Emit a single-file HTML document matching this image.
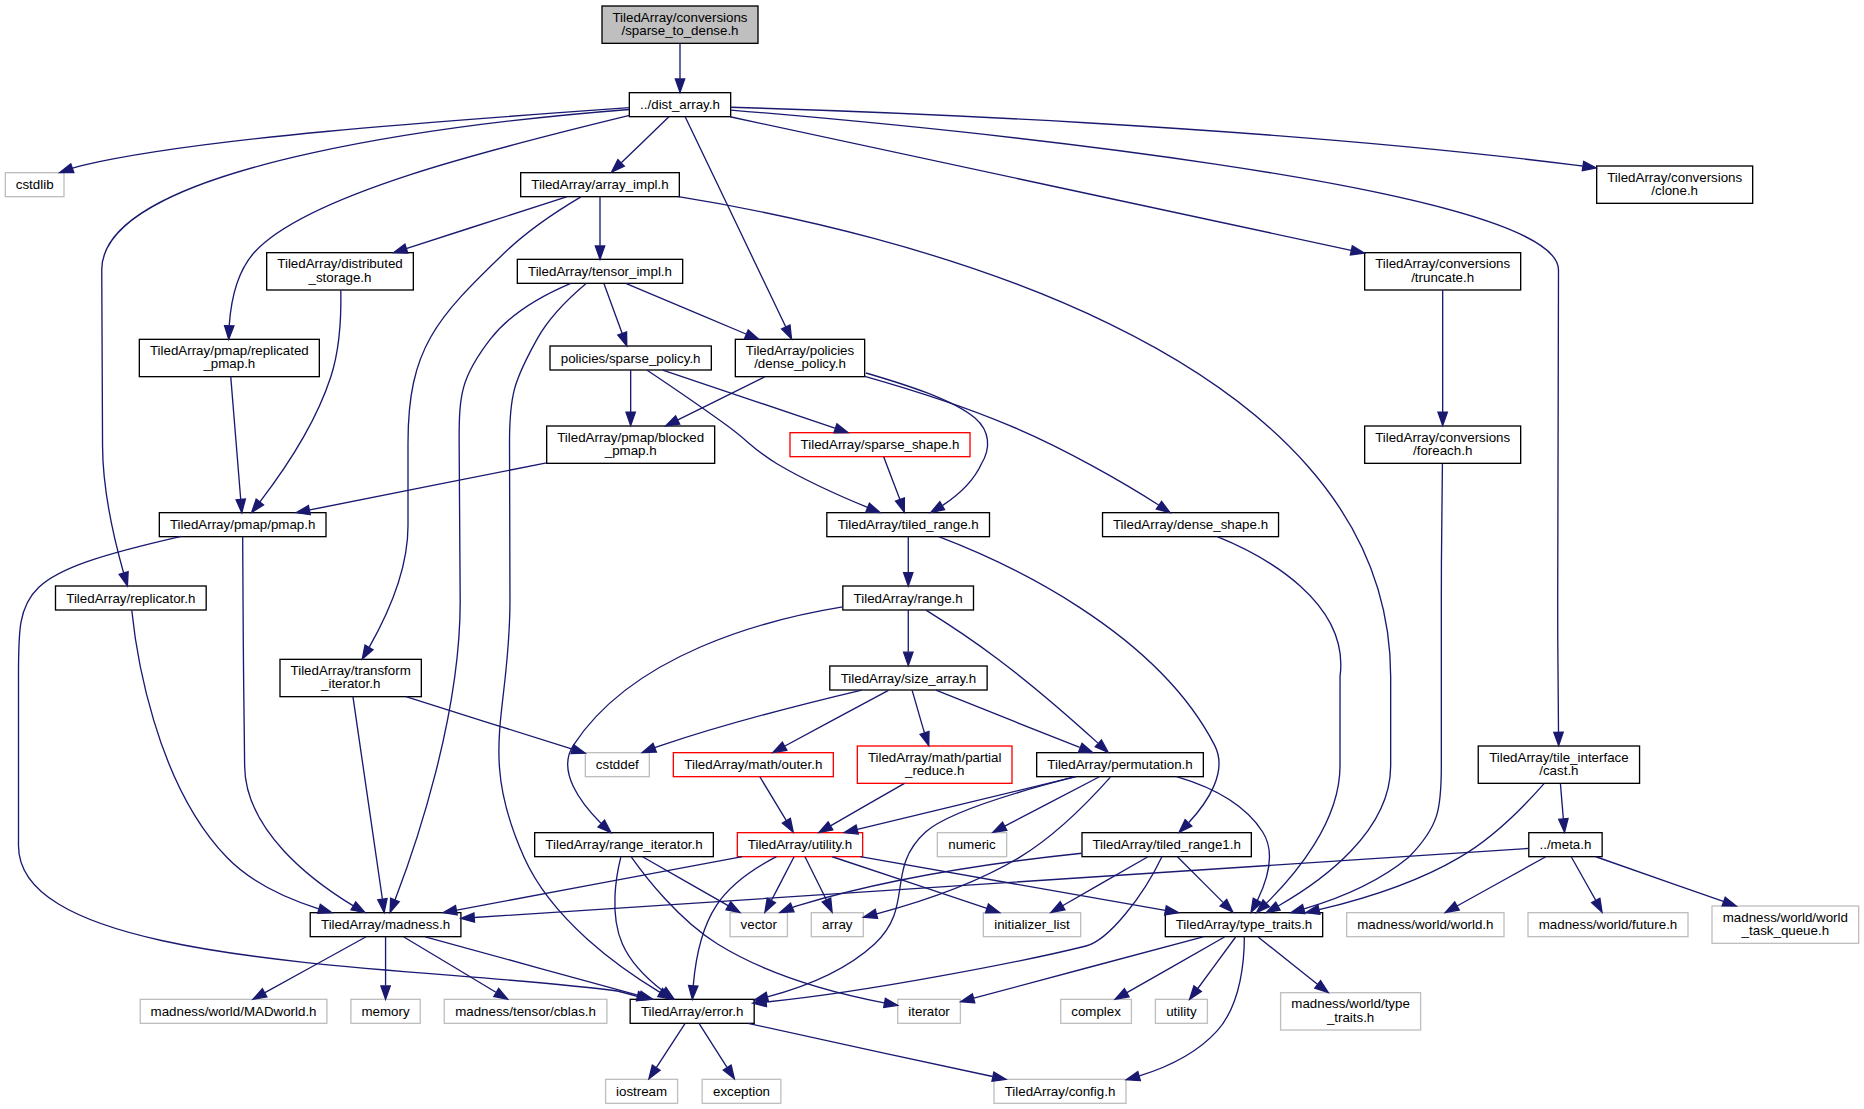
<!DOCTYPE html>
<html><head><meta charset="utf-8"><title>Include dependency graph for sparse_to_dense.h</title>
<style>
html,body{margin:0;padding:0;background:#fff;}
body{width:1864px;height:1109px;overflow:hidden;}
svg{display:block;}
.E path{fill:none;stroke:#191970;stroke-width:1.333;}
.H polygon{fill:#191970;stroke:#191970;stroke-width:1.333;}
rect{stroke-width:1.333;fill:#fff;}
.n{stroke:#000;}
.nr{stroke:#000;fill:#bfbfbf;}
.ng{stroke:#bfbfbf;}
.nred{stroke:#f00;}
text{font-family:"Liberation Sans",sans-serif;font-size:13.333px;text-anchor:middle;fill:#000;}
</style></head><body>
<svg width="1864" height="1109" viewBox="0 0 1864 1109">
<g>
<rect x="602.00" y="6.00" width="156.00" height="37.33" class="nr"/>
<rect x="629.33" y="92.67" width="101.33" height="24.00" class="n"/>
<rect x="5.33" y="172.67" width="58.67" height="24.00" class="ng"/>
<rect x="55.50" y="586.00" width="150.67" height="24.00" class="n"/>
<rect x="310.23" y="912.67" width="150.67" height="24.00" class="n"/>
<rect x="444.23" y="999.33" width="162.67" height="24.00" class="ng"/>
<rect x="140.23" y="999.33" width="186.67" height="24.00" class="ng"/>
<rect x="630.17" y="999.33" width="124.00" height="24.00" class="n"/>
<rect x="994.00" y="1079.33" width="132.00" height="24.00" class="ng"/>
<rect x="702.17" y="1079.33" width="78.67" height="24.00" class="ng"/>
<rect x="605.60" y="1079.33" width="72.00" height="24.00" class="ng"/>
<rect x="350.90" y="999.33" width="69.33" height="24.00" class="ng"/>
<rect x="520.67" y="172.67" width="158.67" height="24.00" class="n"/>
<rect x="517.33" y="259.33" width="165.33" height="24.00" class="n"/>
<rect x="550.00" y="346.00" width="161.33" height="24.00" class="n"/>
<rect x="546.67" y="426.00" width="168.00" height="37.33" class="n"/>
<rect x="159.33" y="512.67" width="166.67" height="24.00" class="n"/>
<rect x="826.83" y="512.67" width="162.67" height="24.00" class="n"/>
<rect x="842.83" y="586.00" width="130.67" height="24.00" class="n"/>
<rect x="829.80" y="666.00" width="157.33" height="24.00" class="n"/>
<rect x="1036.67" y="752.67" width="166.67" height="24.00" class="n"/>
<rect x="937.33" y="832.67" width="69.33" height="24.00" class="ng"/>
<rect x="811.30" y="912.67" width="52.00" height="24.00" class="ng"/>
<rect x="737.33" y="832.67" width="125.33" height="24.00" class="nred"/>
<rect x="730.07" y="912.67" width="57.33" height="24.00" class="ng"/>
<rect x="1165.33" y="912.67" width="157.33" height="24.00" class="n"/>
<rect x="1280.60" y="992.67" width="140.00" height="37.33" class="ng"/>
<rect x="1060.73" y="999.33" width="70.67" height="24.00" class="ng"/>
<rect x="897.73" y="999.33" width="62.67" height="24.00" class="ng"/>
<rect x="1155.40" y="999.33" width="52.00" height="24.00" class="ng"/>
<rect x="983.33" y="912.67" width="97.33" height="24.00" class="ng"/>
<rect x="585.33" y="752.67" width="64.00" height="24.00" class="ng"/>
<rect x="857.33" y="746.00" width="154.67" height="37.33" class="nred"/>
<rect x="673.33" y="752.67" width="160.00" height="24.00" class="nred"/>
<rect x="534.67" y="832.67" width="178.67" height="24.00" class="n"/>
<rect x="1082.00" y="832.67" width="169.33" height="24.00" class="n"/>
<rect x="790.00" y="432.67" width="180.00" height="24.00" class="nred"/>
<rect x="735.33" y="339.33" width="129.33" height="37.33" class="n"/>
<rect x="1102.53" y="512.67" width="176.00" height="24.00" class="n"/>
<rect x="266.67" y="252.67" width="146.67" height="37.33" class="n"/>
<rect x="280.00" y="659.33" width="141.33" height="37.33" class="n"/>
<rect x="139.33" y="339.33" width="180.00" height="37.33" class="n"/>
<rect x="1478.23" y="746.00" width="161.33" height="37.33" class="n"/>
<rect x="1528.80" y="832.67" width="73.33" height="24.00" class="n"/>
<rect x="1346.67" y="912.67" width="157.33" height="24.00" class="ng"/>
<rect x="1528.00" y="912.67" width="160.00" height="24.00" class="ng"/>
<rect x="1712.00" y="906.00" width="146.67" height="37.33" class="ng"/>
<rect x="1364.67" y="252.67" width="156.00" height="37.33" class="n"/>
<rect x="1364.67" y="426.00" width="156.00" height="37.33" class="n"/>
<rect x="1596.67" y="166.00" width="156.00" height="37.33" class="n"/>
</g>
<g class="E">
<path d="M680.00,43.55C680.00,53.96 680.00,67.32 680.00,78.76"/>
<path d="M629.50,107.70C432.39,121.60 199.47,138.05 82.67,165.33C79.33,166.11 75.91,167.07 72.51,168.12"/>
<path d="M629.16,109.48C487.95,120.53 101.38,160.75 101.75,270.00C101.75,270.00 101.75,270.00 102.55,446.00C102.71,491.52 115.32,543.49 123.63,572.96"/>
<path d="M668.88,116.75C656.60,128.63 636.55,148.00 621.24,162.80"/>
<path d="M685.16,116.77C702.48,152.95 758.97,270.96 785.72,326.83"/>
<path d="M629.50,115.40C490.91,149.10 306.93,194.65 254.67,252.00C236.59,271.84 230.83,302.35 229.24,325.31"/>
<path d="M731.04,110.07C918.57,125.69 1558.63,185.23 1558.49,270.00C1558.49,270.00 1558.49,270.00 1557.70,599.33C1557.63,645.51 1558.11,698.99 1558.50,732.00"/>
<path d="M730.04,116.76C856.23,143.89 1188.91,215.43 1351.12,250.32"/>
<path d="M730.80,107.28C867.88,111.19 1256.65,125.21 1577.33,165.33C1579.05,165.55 1580.80,165.77 1582.56,166.01"/>
<path d="M131.77,610.27C135.72,649.17 154.72,782.59 226.79,857.33C251.35,882.87 287.21,898.91 318.63,908.77"/>
<path d="M403.87,936.99C427.26,951.01 468.07,975.51 495.93,992.21"/>
<path d="M365.70,936.99C340.06,951.15 295.19,975.95 264.94,992.67"/>
<path d="M425.21,936.81C479.95,951.80 578.60,978.95 639.50,995.64"/>
<path d="M385.57,936.99C385.57,949.25 385.57,969.49 385.57,985.56"/>
<path d="M748.00,1023.30C812.00,1037.20 920.40,1061.40 992.60,1076.51"/>
<path d="M699.02,1023.41C706.23,1034.72 717.78,1052.83 727.02,1067.31"/>
<path d="M685.13,1023.41C677.73,1034.72 665.93,1052.83 656.47,1067.31"/>
<path d="M600.00,196.99C600.00,209.25 600.00,229.49 600.00,245.56"/>
<path d="M678.33,196.69C878.07,228.81 1390.67,343.67 1390.67,676.67C1390.67,676.67 1390.67,676.67 1390.67,766.00C1390.67,831.60 1321.61,881.25 1278.27,905.96"/>
<path d="M566.55,196.81C526.37,209.79 458.05,231.85 406.92,248.39"/>
<path d="M580.91,196.83C560.80,208.77 528.85,229.35 505.33,252.00C436.63,318.20 408.00,347.92 408.00,443.33C408.00,443.33 408.00,443.33 408.00,526.00C408.00,570.37 386.01,617.57 369.27,647.08"/>
<path d="M570.79,283.33C546.05,293.80 511.41,312.09 490.74,338.67C460.94,377.03 458.92,394.69 459.15,443.33C459.15,443.33 459.15,443.33 460.17,599.33C460.94,714.71 415.27,847.23 394.98,899.95"/>
<path d="M586.44,283.35C572.15,295.33 550.01,316.05 537.36,338.67C513.89,380.68 509.43,395.17 509.52,443.33C509.52,443.33 509.52,443.33 509.96,599.33C510.32,714.15 477.10,752.43 524.03,857.33C551.99,919.99 619.62,968.00 660.07,992.33"/>
<path d="M604.01,283.65C608.57,296.17 616.19,317.00 622.11,333.21"/>
<path d="M625.73,283.48C655.97,296.17 706.96,317.59 746.00,333.99"/>
<path d="M630.67,370.32C630.67,380.85 630.67,397.28 630.67,411.89"/>
<path d="M646.80,370.07C666.01,382.93 698.99,405.28 726.67,425.33C749.60,441.96 753.05,449.41 777.33,464.00C806.17,481.09 841.20,496.57 867.55,507.44"/>
<path d="M662.75,370.15C706.51,384.88 785.15,411.37 834.84,428.12"/>
<path d="M546.48,462.79C475.52,476.92 375.35,496.89 309.72,509.97"/>
<path d="M242.67,536.96C242.71,561.81 243.08,624.35 243.60,676.67C243.60,676.67 243.60,676.67 244.64,766.00C245.26,830.28 311.55,880.48 352.97,905.61"/>
<path d="M181.30,536.30C15.48,574.28 18.50,588.99 18.50,680.00C18.50,740.00 18.50,790.00 18.50,845.70C18.50,969.43 415.14,964.08 617.30,991.00C623.67,992.50 630.53,994.30 637.11,996.45"/>
<path d="M908.27,537.04C908.27,546.43 908.27,560.25 908.27,572.23"/>
<path d="M938.77,536.69C1003.61,561.44 1154.96,629.51 1214.67,745.33C1228.29,771.76 1207.17,802.61 1188.79,822.53"/>
<path d="M908.27,610.08C908.27,620.81 908.27,637.68 908.27,651.76"/>
<path d="M925.99,610.07C944.32,621.49 973.17,640.40 997.33,658.67C1033.92,686.07 1073.73,721.09 1097.77,742.88"/>
<path d="M842.57,606.91C763.20,619.93 632.61,654.64 573.33,745.33C556.56,771.00 580.57,802.89 600.93,823.19"/>
<path d="M935.92,690.15C972.34,704.69 1037.12,730.69 1079.71,747.47"/>
<path d="M861.83,690.03C811.70,701.87 729.62,722.33 661.33,745.33C659.19,746.05 656.99,746.84 654.77,747.65"/>
<path d="M912.13,690.32C915.40,701.08 919.96,717.97 924.49,732.80"/>
<path d="M888.43,690.32C862.04,704.48 815.49,729.28 784.97,746.00"/>
<path d="M1075.61,776.71C1025.44,789.55 947.87,811.85 925.57,832.00C885.06,868.67 914.76,906.93 874.61,944.00C845.09,971.17 803.44,987.36 767.38,996.89"/>
<path d="M1099.43,776.75C1074.93,789.55 1033.72,811.08 1004.81,826.19"/>
<path d="M1110.43,777.07C1093.67,795.91 1057.34,834.44 1019.49,857.33C973.98,884.83 914.99,903.57 876.63,913.87"/>
<path d="M1075.84,776.67C1018.97,790.41 920.04,814.32 857.39,829.47"/>
<path d="M1176.49,776.71C1207.63,785.81 1243.71,802.33 1262.67,832.00C1275.84,852.61 1266.96,880.72 1257.47,900.28"/>
<path d="M742.41,856.67C667.65,870.61 537.75,895.03 456.85,910.12"/>
<path d="M776.47,856.69C757.34,866.61 731.21,883.17 716.48,905.33C700.50,929.45 695.17,963.05 693.25,985.61"/>
<path d="M805.00,856.75C810.37,867.83 819.32,885.43 826.33,899.76"/>
<path d="M794.07,856.75C788.12,867.93 779.08,885.80 771.49,900.20"/>
<path d="M860.25,856.67C939.62,870.68 1079.02,895.23 1165.24,910.31"/>
<path d="M832.25,856.75C872.49,870.16 941.49,893.16 986.92,908.31"/>
<path d="M1244.33,936.67C1244.40,957.43 1241.59,1003.56 1217.33,1030.67C1197.17,1053.20 1167.56,1067.21 1139.45,1075.92"/>
<path d="M1258.12,936.99C1273.25,948.92 1297.48,968.39 1317.47,984.23"/>
<path d="M1224.48,936.99C1199.52,951.15 1156.31,975.95 1126.88,992.67"/>
<path d="M1203.16,936.81C1143.95,952.59 1035.11,981.81 973.80,998.16"/>
<path d="M1235.63,936.99C1225.93,950.01 1209.99,972.03 1197.79,988.49"/>
<path d="M904.44,783.36C882.53,795.93 853.00,812.89 830.93,825.57"/>
<path d="M759.83,776.75C766.64,788.05 777.57,806.16 786.31,820.64"/>
<path d="M620.87,856.84C616.16,875.52 609.31,914.59 622.41,944.00C630.90,963.23 647.95,979.51 663.03,991.09"/>
<path d="M642.53,856.75C664.54,869.37 701.81,890.51 728.12,905.57"/>
<path d="M631.25,856.85C645.39,876.97 679.00,920.19 717.55,944.00C770.04,976.53 839.38,994.16 884.08,1002.81"/>
<path d="M1161.91,856.69C1143.22,896.10 1108.51,940.37 1086.00,946.00C1027.79,960.57 867.68,992.00 766.56,1002.00"/>
<path d="M1081.64,853.24C1005.93,861.20 893.09,876.81 798.72,905.33C796.77,905.92 794.79,906.59 792.79,907.29"/>
<path d="M1177.41,856.75C1189.17,868.51 1208.31,887.64 1223.04,902.37"/>
<path d="M1147.95,856.75C1125.85,869.44 1088.83,890.69 1062.56,905.79"/>
<path d="M883.71,456.75C887.65,467.71 894.53,485.07 899.89,499.32"/>
<path d="M764.92,376.73C739.71,389.24 705.47,406.23 677.87,419.92"/>
<path d="M866.00,373.00C905.00,384.50 952.00,399.00 975.00,418.00C990.00,431.00 991.00,448.00 981.33,464.00C973.40,481.53 957.71,495.48 942.63,505.43"/>
<path d="M864.77,376.29C905.94,387.95 960.91,404.96 1009.20,425.33C1064.74,448.48 1125.56,483.65 1158.61,504.96"/>
<path d="M1217.25,536.67C1265.35,556.19 1349.97,602.56 1340.03,676.67C1340.03,676.67 1340.03,676.67 1340.00,766.00C1340.00,822.17 1294.84,875.31 1266.48,903.13"/>
<path d="M340.81,290.19C341.25,311.37 340.29,347.85 330.67,377.33C314.89,425.61 280.73,474.77 259.91,501.93"/>
<path d="M352.97,696.88C358.93,739.68 375.46,849.49 382.34,898.76"/>
<path d="M405.92,696.73C455.21,712.27 526.48,734.72 572.36,749.17"/>
<path d="M230.76,376.88C233.15,406.28 237.96,465.51 240.68,498.93"/>
<path d="M1544.06,783.65C1526.02,804.15 1493.85,837.64 1459.59,857.33C1416.47,882.77 1362.30,899.45 1319.03,909.68"/>
<path d="M1560.41,783.55C1561.29,793.96 1562.38,807.32 1563.35,818.76"/>
<path d="M1528.73,848.40C1366.65,859.00 714.27,901.83 474.45,917.53"/>
<path d="M1545.81,856.75C1522.73,869.49 1484.36,890.89 1457.04,905.99"/>
<path d="M1571.21,856.75C1577.39,867.93 1587.62,885.80 1595.64,900.20"/>
<path d="M1595.87,856.75C1628.57,868.25 1681.73,886.80 1723.31,901.40"/>
<path d="M1442.67,290.29C1442.67,319.03 1442.67,376.39 1442.67,412.13"/>
<path d="M1442.41,463.63C1442.03,491.76 1441.33,548.53 1441.33,596.67C1441.33,596.67 1441.33,596.67 1441.33,766.00C1441.33,809.01 1439.09,826.28 1408.69,857.33C1377.25,883.23 1337.09,899.20 1303.99,908.93"/>
</g>
<g class="H">
<polygon points="684.67,78.97 680.00,92.31 675.33,78.97"/>
<polygon points="73.83,172.60 59.69,172.55 70.77,163.77"/>
<polygon points="128.14,571.72 127.39,585.83 119.18,574.35"/>
<polygon points="624.37,166.25 611.55,172.17 617.89,159.55"/>
<polygon points="789.99,324.95 791.53,338.99 781.57,328.97"/>
<polygon points="233.88,325.97 228.72,339.12 224.56,325.63"/>
<polygon points="1563.17,732.23 1558.66,745.61 1553.83,732.35"/>
<polygon points="1352.33,245.80 1364.39,253.17 1350.37,254.92"/>
<polygon points="1583.65,161.45 1596.17,168.00 1582.29,170.69"/>
<polygon points="320.31,904.40 331.79,912.63 317.69,913.36"/>
<polygon points="498.67,988.41 507.70,999.28 493.87,996.43"/>
<polygon points="266.89,996.92 252.97,999.28 262.38,988.75"/>
<polygon points="641.05,991.23 652.69,999.23 638.59,1000.23"/>
<polygon points="390.23,985.95 385.57,999.28 380.90,985.95"/>
<polygon points="993.87,1072.01 1005.96,1079.32 991.96,1081.15"/>
<polygon points="731.14,1065.09 734.38,1078.84 723.27,1070.11"/>
<polygon points="660.12,1070.24 648.91,1078.84 652.32,1065.13"/>
<polygon points="604.67,245.95 600.00,259.28 595.33,245.95"/>
<polygon points="1280.21,910.21 1266.28,912.53 1275.72,902.03"/>
<polygon points="407.77,253.01 393.65,252.67 404.91,244.12"/>
<polygon points="373.07,649.83 362.27,658.95 365.03,645.09"/>
<polygon points="399.31,901.67 390.09,912.36 390.63,898.24"/>
<polygon points="662.53,988.36 671.69,999.11 657.82,996.41"/>
<polygon points="626.56,331.83 626.76,345.95 617.80,335.03"/>
<polygon points="748.24,329.87 758.73,339.33 744.63,338.47"/>
<polygon points="635.33,412.27 630.67,425.60 626.00,412.27"/>
<polygon points="869.45,503.17 880.02,512.53 865.91,511.81"/>
<polygon points="836.89,423.88 848.04,432.56 833.91,432.73"/>
<polygon points="310.25,514.63 296.27,512.65 308.43,505.47"/>
<polygon points="355.75,901.84 364.91,912.60 351.05,909.89"/>
<polygon points="638.53,991.68 650.45,999.25 636.41,1000.77"/>
<polygon points="912.93,572.60 908.27,585.93 903.60,572.60"/>
<polygon points="1191.77,826.16 1179.09,832.39 1185.12,819.61"/>
<polygon points="912.93,652.17 908.27,665.51 903.60,652.17"/>
<polygon points="1101.53,739.97 1108.23,752.41 1095.24,746.87"/>
<polygon points="604.48,820.12 611.00,832.64 598.09,826.92"/>
<polygon points="1081.96,743.33 1092.65,752.56 1078.53,752.03"/>
<polygon points="656.37,752.03 642.25,752.51 653.00,743.33"/>
<polygon points="928.97,731.48 928.76,745.60 920.11,734.43"/>
<polygon points="786.84,750.31 772.89,752.61 782.35,742.12"/>
<polygon points="768.45,1001.44 754.38,1000.11 766.19,992.37"/>
<polygon points="1006.85,830.39 992.88,832.43 1002.53,822.11"/>
<polygon points="877.58,918.45 863.50,917.28 875.23,909.41"/>
<polygon points="858.28,834.05 844.21,832.65 856.08,824.97"/>
<polygon points="1261.45,902.71 1251.07,912.27 1253.23,898.31"/>
<polygon points="457.19,914.80 443.23,912.65 455.50,905.63"/>
<polygon points="697.87,986.21 692.34,999.21 688.57,985.60"/>
<polygon points="830.71,898.12 832.10,912.17 822.25,902.05"/>
<polygon points="775.41,902.75 764.89,912.17 767.25,898.24"/>
<polygon points="1166.31,905.76 1178.64,912.65 1164.71,914.96"/>
<polygon points="988.47,903.91 999.64,912.55 985.52,912.76"/>
<polygon points="1140.36,1080.51 1126.25,1079.67 1137.81,1071.53"/>
<polygon points="1320.55,980.72 1328.21,992.59 1314.83,988.08"/>
<polygon points="1129.03,996.81 1115.12,999.28 1124.45,988.68"/>
<polygon points="974.75,1002.73 960.67,1001.64 972.36,993.71"/>
<polygon points="1201.36,991.51 1189.56,999.28 1193.93,985.85"/>
<polygon points="832.80,829.88 818.91,832.48 828.15,821.79"/>
<polygon points="790.37,818.35 793.27,832.17 782.37,823.16"/>
<polygon points="665.93,987.41 674.01,999.00 660.47,994.99"/>
<polygon points="730.73,901.69 739.92,912.43 726.04,909.77"/>
<polygon points="885.41,998.32 897.68,1005.32 883.72,1007.49"/>
<polygon points="766.52,1006.69 752.84,1003.19 765.73,997.40"/>
<polygon points="794.03,911.83 779.92,912.55 790.51,903.19"/>
<polygon points="1226.71,899.44 1232.84,912.17 1220.11,906.04"/>
<polygon points="1064.88,909.83 1051.00,912.43 1060.24,901.73"/>
<polygon points="904.38,498.04 904.31,512.17 895.55,501.09"/>
<polygon points="679.72,424.20 665.71,425.95 675.57,415.84"/>
<polygon points="944.61,509.68 930.78,512.55 939.81,501.68"/>
<polygon points="1161.57,501.32 1170.00,512.65 1156.35,509.05"/>
<polygon points="1269.44,906.75 1256.55,912.52 1263.03,899.97"/>
<polygon points="263.55,504.85 251.65,512.48 256.20,499.11"/>
<polygon points="387.03,898.64 384.14,912.47 377.78,899.85"/>
<polygon points="573.85,744.75 585.16,753.20 571.04,753.64"/>
<polygon points="245.37,498.99 241.80,512.65 236.07,499.75"/>
<polygon points="1319.95,914.27 1305.93,912.65 1317.90,905.16"/>
<polygon points="1568.03,818.61 1564.52,832.31 1558.72,819.43"/>
<polygon points="474.53,922.20 460.93,918.41 473.93,912.88"/>
<polygon points="1459.21,910.12 1445.28,912.43 1454.73,901.93"/>
<polygon points="1599.87,898.21 1602.04,912.17 1591.63,902.61"/>
<polygon points="1725.27,897.15 1736.28,905.99 1722.16,905.95"/>
<polygon points="1447.33,412.21 1442.67,425.55 1438.00,412.21"/>
<polygon points="1305.03,913.49 1290.93,912.61 1302.49,904.51"/>
</g>
<g>
<text x="680.00" y="21.71">TiledArray/conversions</text>
<text x="680.00" y="35.12">/sparse_to_dense.h</text>
<text x="680.00" y="109.27">../dist_array.h</text>
<text x="34.66" y="189.27">cstdlib</text>
<text x="130.83" y="602.60">TiledArray/replicator.h</text>
<text x="385.56" y="929.27">TiledArray/madness.h</text>
<text x="525.56" y="1015.93">madness/tensor/cblas.h</text>
<text x="233.56" y="1015.93">madness/world/MADworld.h</text>
<text x="692.17" y="1015.93">TiledArray/error.h</text>
<text x="1060.00" y="1095.93">TiledArray/config.h</text>
<text x="741.50" y="1095.93">exception</text>
<text x="641.60" y="1095.93">iostream</text>
<text x="385.56" y="1015.93">memory</text>
<text x="600.00" y="189.27">TiledArray/array_impl.h</text>
<text x="600.00" y="275.93">TiledArray/tensor_impl.h</text>
<text x="630.66" y="362.60">policies/sparse_policy.h</text>
<text x="630.67" y="441.72">TiledArray/pmap/blocked</text>
<text x="630.67" y="455.12">_pmap.h</text>
<text x="242.67" y="529.27">TiledArray/pmap/pmap.h</text>
<text x="908.17" y="529.27">TiledArray/tiled_range.h</text>
<text x="908.17" y="602.60">TiledArray/range.h</text>
<text x="908.46" y="682.60">TiledArray/size_array.h</text>
<text x="1120.01" y="769.27">TiledArray/permutation.h</text>
<text x="972.00" y="849.27">numeric</text>
<text x="837.30" y="929.27">array</text>
<text x="800.00" y="849.27">TiledArray/utility.h</text>
<text x="758.73" y="929.27">vector</text>
<text x="1243.99" y="929.27">TiledArray/type_traits.h</text>
<text x="1350.60" y="1008.38">madness/world/type</text>
<text x="1350.60" y="1021.78">_traits.h</text>
<text x="1096.07" y="1015.93">complex</text>
<text x="929.07" y="1015.93">iterator</text>
<text x="1181.40" y="1015.93">utility</text>
<text x="1032.00" y="929.27">initializer_list</text>
<text x="617.33" y="769.27">cstddef</text>
<text x="934.67" y="761.71">TiledArray/math/partial</text>
<text x="934.67" y="775.12">_reduce.h</text>
<text x="753.33" y="769.27">TiledArray/math/outer.h</text>
<text x="624.00" y="849.27">TiledArray/range_iterator.h</text>
<text x="1166.66" y="849.27">TiledArray/tiled_range1.h</text>
<text x="880.00" y="449.27">TiledArray/sparse_shape.h</text>
<text x="800.00" y="355.05">TiledArray/policies</text>
<text x="800.00" y="368.44">/dense_policy.h</text>
<text x="1190.53" y="529.27">TiledArray/dense_shape.h</text>
<text x="340.00" y="268.38">TiledArray/distributed</text>
<text x="340.00" y="281.78">_storage.h</text>
<text x="350.67" y="675.04">TiledArray/transform</text>
<text x="350.67" y="688.45">_iterator.h</text>
<text x="229.33" y="355.05">TiledArray/pmap/replicated</text>
<text x="229.33" y="368.44">_pmap.h</text>
<text x="1558.89" y="761.71">TiledArray/tile_interface</text>
<text x="1558.89" y="775.12">/cast.h</text>
<text x="1565.46" y="849.27">../meta.h</text>
<text x="1425.34" y="929.27">madness/world/world.h</text>
<text x="1608.00" y="929.27">madness/world/future.h</text>
<text x="1785.34" y="921.71">madness/world/world</text>
<text x="1785.34" y="935.12">_task_queue.h</text>
<text x="1442.67" y="268.38">TiledArray/conversions</text>
<text x="1442.67" y="281.78">/truncate.h</text>
<text x="1442.67" y="441.72">TiledArray/conversions</text>
<text x="1442.67" y="455.12">/foreach.h</text>
<text x="1674.67" y="181.72">TiledArray/conversions</text>
<text x="1674.67" y="195.11">/clone.h</text>
</g>
</svg>
</body></html>
